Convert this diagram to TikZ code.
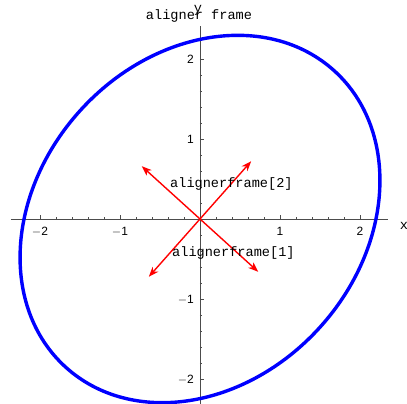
\documentclass[tikz,border=0pt]{standalone}
\usepackage{fontspec}
\setmainfont{Liberation Sans}
\newfontfamily\plotmono{Liberation Mono}
\usetikzlibrary{arrows.meta,positioning}
\tikzset{
  axisline/.style={black!70,line width=0.8pt},
  ticklabel/.style={inner sep=0pt,font=\fontsize{12}{13}\selectfont},
  monolabel/.style={inner sep=0pt,font=\plotmono\fontsize{13.6}{14}\selectfont},
  framevec/.style={red,line width=1.4pt,{Stealth[length=10pt,width=7.5pt,inset=3pt]}-{Stealth[length=10pt,width=7.5pt,inset=3pt]}},
  orbit/.style={blue,line width=3.4pt}
}
\begin{document}
\begin{tikzpicture}[x=80pt,y=80pt]
      \useasboundingbox (-2.5,-2.3125) rectangle (2.5875,2.7375);
      % axes
      \draw[axisline] (-2.3625,0) -- (2.35,0);
      \draw[axisline] (0,-2.3125) -- (0,2.41);
      \foreach \m in {-9,-8,-7,-6,-4,-3,-2,-1,1,2,3,4,6,7,8,9} {
        \draw[axisline] (\m/5,0) -- (\m/5,0.03);
        \draw[axisline] (0,\m/5) -- (0.03,\m/5);
      }
      \foreach \t/\lab in {-2/$-$2,-1/$-$1,1/1,2/2} {
        \draw[axisline] (\t,0) -- (\t,0.05);
        \draw[axisline] (0,\t) -- (0.05,\t);
        \node[ticklabel,anchor=base] (xt\t) at (\t,-0.206) {\lab};
        \node[ticklabel,anchor=base east] (yt\t) at (-0.075,\t-0.056) {\lab};
      }
      \node[monolabel,anchor=base] (xlab) at (2.55,-0.1375) {x};
      \node[monolabel,anchor=base] (ylab) at (-0.025,2.575) {y};
      \node[monolabel,anchor=base] (title) at (-0.0125,2.495) {aligner frame};

      % curve
      \draw[orbit,rotate=47.8] (0,0) ellipse (2.5 and 2.02);

      % frame vectors
      \coordinate (e1p) at (0.728,-0.660);
      \coordinate (e1m) at (-0.728,0.660);
      \coordinate (e2p) at (0.640,0.722);
      \coordinate (e2m) at (-0.640,-0.722);
      \draw[framevec] (e1m) -- (e1p);
      \draw[framevec] (e2m) -- (e2p);
      \node[monolabel,anchor=west] (lab2) at (-0.375,0.4375) {alignerframe[2]};
      \node[monolabel,anchor=west] (lab1) at (-0.35,-0.425) {alignerframe[1]};
    \end{tikzpicture}
\end{document}
